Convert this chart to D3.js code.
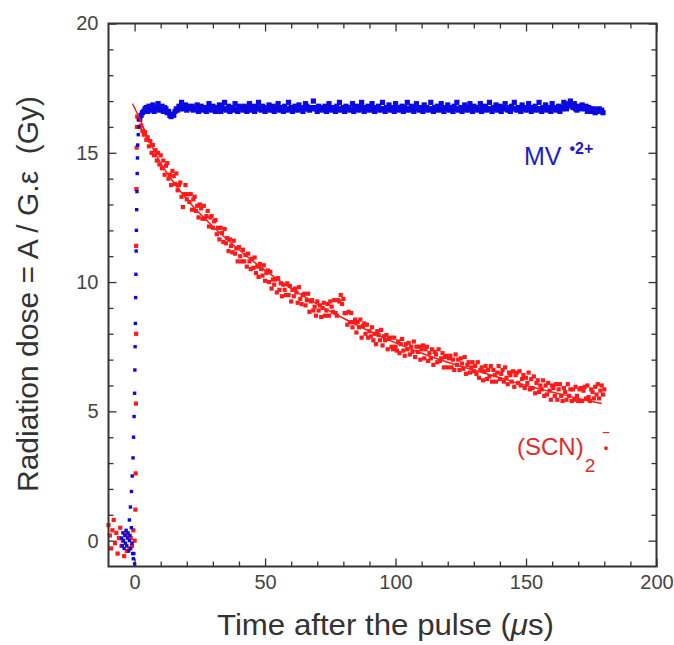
<!DOCTYPE html>
<html>
<head>
<meta charset="utf-8">
<script src="https://cdn.jsdelivr.net/npm/d3@7"></script>
<style>
body { margin: 0; background: #fff; }
svg text { font-family: Arial, "Liberation Sans", Helvetica, sans-serif; }
</style>
</head>
<body>
<div id="chart"></div>
<script>
// axis ticks
const xMajor = [0, 50, 100, 150, 200];
const xMinor = [10, 20, 30, 40, 60, 70, 80, 90, 110, 120, 130, 140, 160, 170, 180, 190];
const yMajor = [0, 5, 10, 15, 20];
const yMinor = [1, 2, 3, 4, 6, 7, 8, 9, 11, 12, 13, 14, 16, 17, 18, 19];

// (SCN)2•- pre-pulse baseline, t = -10 .. 0 us
const redBaseT = [-10, -9.5, -9, -8.5, -8, -7.5, -7, -6.5, -6, -5.5, -5, -4.5, -4, -3.5, -3, -2.5, -2, -1.5, -1, -0.5, 0];
const redBaseV = [0.6, 0.2, -0.3, 0.4, 0.8, -0.1, 0.3, -0.5, 0.1, 0.5, -0.2, 0.0, -0.6, 0.3, -0.4, 0.2, -0.3, 0.1, -0.2, 0.4, 0.0];
// (SCN)2•- points on the rising edge
const redRiseT = [0.3, 0.4, 0.5, 0.6, 0.6, 0.7, 0.8, 0.9];
const redRiseV = [1.2, 2.6, 5.3, 8.0, 11.4, 13.6, 15.2, 16.0];
// (SCN)2•- decay trace, sampled every 0.5 us from t = 1 us
const redStart = 1, redStep = 0.5;
const redTrace = [
  16.4, 16.3, 16.0, 16.05, 15.85, 15.7, 15.8, 15.5, 15.6, 15.25, 15.45, 15.0, 15.3, 14.9, 15.1, 14.7, 15.0, 14.55, 14.9, 14.4,
  14.7, 14.15, 14.5, 14.6, 14.0, 14.15, 13.75, 14.3, 14.1, 13.8, 14.2, 13.55, 13.75, 13.85, 13.3, 12.9, 13.4, 13.75, 13.2, 13.4,
  13.1, 13.4, 12.8, 13.2, 13.3, 12.75, 12.95, 12.5, 13.0, 12.85, 12.45, 12.95, 12.45, 12.55, 12.75, 12.15, 12.5, 12.55, 12.1, 12.35,
  12.4, 11.85, 12.1, 11.65, 12.1, 11.9, 11.55, 12.05, 11.5, 11.7, 11.2, 11.65, 11.4, 11.15, 11.6, 11.1, 11.3, 10.8, 11.35, 11.0,
  10.8, 11.25, 10.8, 11.05, 10.6, 11.1, 10.8, 10.5, 10.9, 10.55, 10.95, 10.35, 10.6, 10.2, 10.7, 10.5, 10.25, 10.65, 10.05, 10.35,
  10.45, 10.0, 10.4, 9.75, 10.1, 9.9, 10.1, 9.6, 10.15, 9.7, 9.95, 9.45, 9.9, 9.7, 9.5, 9.95, 9.5, 9.85, 9.25, 9.7,
  9.45, 9.75, 9.6, 9.2, 9.8, 9.35, 9.15, 9.5, 9.55, 9.1, 9.3, 9.55, 8.85, 9.25, 9.3, 8.9, 9.05, 8.7, 9.25, 8.9,
  9.1, 8.65, 9.0, 9.2, 8.7, 8.9, 9.15, 8.7, 9.25, 9.05, 8.85, 9.3, 8.8, 8.7, 9.3, 9.25, 9.5, 9.15, 9.35, 8.8,
  8.8, 8.35, 8.85, 8.45, 8.8, 8.25, 8.45, 8.55, 8.05, 8.45, 8.25, 8.55, 7.85, 8.3, 8.4, 8.0, 8.35, 7.85, 8.1, 7.9,
  8.25, 7.75, 8.0, 7.6, 8.1, 7.95, 7.75, 8.15, 7.55, 7.9, 7.75, 7.95, 7.4, 7.8, 7.85, 7.5, 7.4, 7.85, 7.5, 7.35,
  7.7, 7.25, 7.6, 7.8, 7.35, 7.15, 7.6, 7.4, 7.65, 7.2, 7.5, 7.3, 7.7, 7.1, 7.5, 7.3, 7.5, 7.0, 7.4, 7.55,
  7.05, 7.4, 7.5, 6.95, 7.25, 7.05, 7.4, 6.8, 7.3, 7.2, 6.9, 7.4, 6.95, 7.05, 7.25, 6.7, 7.1, 7.15, 6.7, 7.05,
  7.15, 6.7, 7.0, 6.6, 7.2, 6.8, 7.0, 6.6, 7.05, 6.85, 6.65, 7.1, 6.45, 6.8, 6.9, 6.5, 6.7, 6.9, 6.55, 6.75,
  6.45, 6.9, 6.3, 6.6, 6.7, 6.2, 6.55, 6.75, 6.25, 6.6, 6.35, 6.75, 6.15, 6.6, 6.4, 6.15, 6.5, 6.75, 6.25, 6.45,
  6.6, 6.15, 6.7, 6.3, 6.05, 6.5, 6.4, 6.15, 6.55, 5.95, 6.4, 6.5, 6.1, 6.55, 6.0, 6.25, 6.4, 5.9, 6.3, 6.1,
  6.5, 5.85, 6.25, 5.9, 6.35, 5.7, 6.1, 6.2, 5.75, 6.0, 5.85, 6.2, 5.6, 6.0, 5.65, 6.1, 5.8, 5.45, 6.0, 5.9,
  5.6, 6.05, 5.45, 5.85, 6.05, 5.6, 5.4, 5.9, 5.75, 5.45, 6.05, 5.6, 5.85, 5.4, 5.85, 5.45, 5.95, 5.6, 5.4, 5.85,
  5.9, 5.4, 5.8, 5.95, 5.5, 6.0, 5.55, 5.4, 5.85, 5.75, 5.5, 5.95, 5.65, 6.05, 5.5, 5.8, 6.0, 5.65, 5.85
];
// kinetic fit through the (SCN)2•- decay
const fitT = [-0.8, 2, 5, 10, 15, 20, 30, 40, 50, 60, 70, 80, 90, 100, 110, 120, 130, 140, 150, 160, 170, 179];
const fitV = [16.9, 16.3, 15.6, 14.6, 13.85, 13.2, 12.15, 11.25, 10.45, 9.75, 9.15, 8.6, 8.1, 7.65, 7.25, 6.9, 6.6, 6.3, 6.0, 5.75, 5.5, 5.3];

// MV•2+ pre-pulse baseline
const blueBaseT = [-5, -4.75, -4.5, -4.25, -4, -3.75, -3.5, -3.25, -3, -2.75, -2.5, -2.25, -2, -1.75, -1.5, -1.25, -1, -0.75, -0.5, -0.3, 0];
const blueBaseV = [0.1, -0.2, 0.3, 0.0, -0.3, 0.2, -0.1, 0.4, -0.2, 0.1, 0.3, -0.4, 0.0, 0.2, -0.3, 0.5, -0.1, -0.5, -0.7, -0.5, -0.9];
// MV•2+ rising edge
const blueRiseT = [-2.0, -1.6, -1.2, -0.9, -0.6, -0.4, -0.2, 0, 0.1, 0.2, 0.3, 0.4, 0.5, 0.6, 0.7, 0.8, 0.9, 1.0, 1.1, 1.2, 1.4, 1.6, 1.8];
const blueRiseV = [0.8, 1.3, 1.9, 2.5, 3.2, 4.0, 4.8, 5.7, 6.6, 7.5, 8.4, 9.4, 10.3, 11.2, 12.0, 12.8, 13.5, 14.2, 14.8, 15.3, 15.7, 16.0, 16.3];
// MV•2+ plateau trace, sampled every 0.5 us from t = 2 us
const blueStart = 2, blueStep = 0.5;
const blueTrace = [
  16.3, 16.45, 16.55, 16.6, 16.7, 16.75, 16.6, 16.8, 16.65, 16.7, 16.85, 16.6, 16.75, 16.7, 16.9, 16.65, 16.7, 16.8, 16.6, 16.75,
  16.7, 16.55, 16.6, 16.45, 16.4, 16.5, 16.45, 16.6, 16.7, 16.65, 16.8, 16.7, 16.95, 16.75, 16.7, 16.85, 16.65, 16.8, 16.7, 16.75,
  16.8, 16.65, 16.75, 16.7, 16.85, 16.6, 16.7, 16.8, 16.65, 16.75, 16.7, 16.6, 16.75, 16.9, 16.7, 16.65, 16.8, 16.7, 16.6, 16.75,
  16.7, 16.85, 16.6, 16.75, 16.7, 16.95, 16.65, 16.7, 16.8, 16.6, 16.75, 16.7, 16.65, 16.9, 16.7, 16.6, 16.8, 16.7, 16.75, 16.65,
  16.8, 16.7, 16.6, 16.75, 16.9, 16.65, 16.7, 16.8, 16.6, 16.7, 16.75, 16.95, 16.7, 16.65, 16.8, 16.7, 16.6, 16.75, 16.7, 16.85,
  16.65, 16.7, 16.8, 16.6, 16.75, 16.7, 16.9, 16.65, 16.7, 16.75, 16.6, 16.8, 16.7, 16.65, 16.95, 16.7, 16.75, 16.6, 16.7, 16.8,
  16.7, 16.65, 16.85, 16.7, 16.75, 16.6, 16.7, 16.9, 16.8, 16.7, 16.65, 16.75, 16.7, 17.0, 16.75, 16.7, 16.6, 16.8, 16.7, 16.75,
  16.65, 16.7, 16.8, 16.6, 16.75, 16.9, 16.7, 16.65, 16.75, 16.7, 16.6, 16.8, 16.7, 16.95, 16.65, 16.7, 16.75, 16.6, 16.8, 16.7,
  16.75, 16.65, 16.7, 16.9, 16.6, 16.7, 16.8, 16.7, 16.65, 16.75, 16.95, 16.7, 16.6, 16.75, 16.7, 16.8, 16.65, 16.7, 16.9, 16.7,
  16.6, 16.75, 16.7, 16.8, 16.65, 16.7, 16.95, 16.7, 16.6, 16.75, 16.7, 16.85, 16.65, 16.7, 16.75, 16.6, 16.9, 16.7, 16.75, 16.65,
  16.7, 16.8, 16.6, 16.75, 16.7, 16.95, 16.65, 16.7, 16.8, 16.7, 16.6, 16.75, 16.9, 16.7, 16.65, 16.75, 16.7, 16.6, 16.85, 16.7,
  16.75, 16.65, 16.7, 16.95, 16.7, 16.6, 16.75, 16.7, 16.8, 16.65, 16.7, 16.9, 16.7, 16.6, 16.75, 16.7, 16.85, 16.65, 16.7, 16.75,
  16.6, 16.8, 16.7, 16.95, 16.65, 16.7, 16.75, 16.6, 16.7, 16.85, 16.7, 16.65, 16.75, 16.9, 16.7, 16.6, 16.8, 16.7, 16.75, 16.65,
  16.7, 16.9, 16.6, 16.75, 16.7, 16.8, 16.65, 16.7, 16.95, 16.7, 16.6, 16.75, 16.7, 16.85, 16.65, 16.7, 16.8, 16.6, 16.75, 16.7,
  16.9, 16.7, 16.65, 16.75, 16.6, 16.8, 16.7, 16.95, 16.7, 16.65, 16.75, 16.7, 16.6, 16.85, 16.7, 16.75, 16.65, 16.7, 16.9, 16.7,
  16.6, 16.75, 16.7, 16.8, 16.65, 16.7, 16.95, 16.7, 16.6, 16.75, 16.7, 16.85, 16.65, 16.7, 16.75, 16.6, 16.9, 16.7, 16.75, 16.65,
  16.7, 16.8, 16.6, 16.75, 16.7, 16.95, 16.75, 16.7, 16.85, 16.9, 17.0, 16.8, 16.75, 16.9, 16.7, 16.65, 16.8, 16.75, 16.7, 16.85,
  16.75, 16.7, 16.8, 16.6, 16.75, 16.7, 16.6, 16.65, 16.7, 16.55, 16.65, 16.6, 16.7, 16.6, 16.65, 16.55
];

const RED = "#ff1a1a";
const BLUE = "#0a0ae0";

const width = 674, height = 645;
const svg = d3.select("#chart").append("svg")
    .attr("width", width)
    .attr("height", height);

const x = d3.scaleLinear().domain([-10, 200]).range([108.5, 656.5]);
const y = d3.scaleLinear().domain([-1, 20]).range([566.5, 23.5]);

function pairs(ts, vs) {
    return ts.map((t, i) => ({ t: t, v: vs[i] }));
}
function trace(start, step, vs) {
    return vs.map((v, i) => ({ t: start + i * step, v: v }));
}

const redPts = pairs(redBaseT, redBaseV)
    .concat(pairs(redRiseT, redRiseV))
    .concat(trace(redStart, redStep, redTrace));
const blueEdge = pairs(blueBaseT, blueBaseV)
    .concat(pairs(blueRiseT, blueRiseV));
const bluePlateau = trace(blueStart, blueStep, blueTrace);

// axes (ticks point inward on all four sides)
const axisColor = "#333";
function styleAxis(g) {
    g.select(".domain").remove();
    g.selectAll("line").attr("stroke", axisColor).attr("stroke-width", 1.3);
    g.selectAll("text").attr("fill", "#444").style("font-size", "20px");
}
svg.append("g").attr("transform", `translate(0,${y(-1)})`)
    .call(d3.axisBottom(x).tickValues(xMajor).tickSize(-8).tickPadding(8).tickFormat(d3.format("d")))
    .call(styleAxis);
svg.append("g").attr("transform", `translate(0,${y(-1)})`)
    .call(d3.axisBottom(x).tickValues(xMinor).tickSize(-5).tickFormat(""))
    .call(styleAxis);
svg.append("g").attr("transform", `translate(0,${y(20)})`)
    .call(d3.axisTop(x).tickValues(xMajor).tickSize(-8).tickFormat(""))
    .call(styleAxis);
svg.append("g").attr("transform", `translate(0,${y(20)})`)
    .call(d3.axisTop(x).tickValues(xMinor).tickSize(-5).tickFormat(""))
    .call(styleAxis);
svg.append("g").attr("transform", `translate(${x(-10)},0)`)
    .call(d3.axisLeft(y).tickValues(yMajor).tickSize(-8).tickPadding(10).tickFormat(d3.format("d")))
    .call(styleAxis);
svg.append("g").attr("transform", `translate(${x(-10)},0)`)
    .call(d3.axisLeft(y).tickValues(yMinor).tickSize(-5).tickFormat(""))
    .call(styleAxis);
svg.append("g").attr("transform", `translate(${x(200)},0)`)
    .call(d3.axisRight(y).tickValues(yMajor).tickSize(-8).tickFormat(""))
    .call(styleAxis);
svg.append("g").attr("transform", `translate(${x(200)},0)`)
    .call(d3.axisRight(y).tickValues(yMinor).tickSize(-5).tickFormat(""))
    .call(styleAxis);

// data markers
function drawMarkers(pts, size, color) {
    svg.append("g").selectAll("rect")
        .data(pts)
        .enter().append("rect")
        .attr("x", d => x(d.t) - size / 2)
        .attr("y", d => y(d.v) - size / 2)
        .attr("width", size)
        .attr("height", size)
        .attr("fill", color);
}
drawMarkers(redPts, 4.2, RED);
drawMarkers(blueEdge, 3.4, BLUE);
drawMarkers(bluePlateau, 5.2, BLUE);

// fit line
const line = d3.line()
    .x(d => x(d.t))
    .y(d => y(d.v))
    .curve(d3.curveMonotoneX);
svg.append("path")
    .datum(pairs(fitT, fitV))
    .attr("fill", "none")
    .attr("stroke", RED)
    .attr("stroke-width", 1.5)
    .attr("d", line);

// frame
svg.append("rect")
    .attr("x", x(-10)).attr("y", y(20))
    .attr("width", x(200) - x(-10)).attr("height", y(-1) - y(20))
    .attr("fill", "none")
    .attr("stroke", axisColor)
    .attr("stroke-width", 2);

// species labels
const mv = svg.append("text")
    .attr("x", 524).attr("y", 165)
    .attr("fill", "#1c1cc8")
    .style("font-size", "25px");
mv.append("tspan").text("MV");
mv.append("tspan").attr("dx", 8).attr("dy", -11)
    .style("font-size", "16px").style("font-weight", "bold").text("•2+");

const scn = svg.append("text")
    .attr("x", 517).attr("y", 455)
    .attr("fill", "#e82828")
    .style("font-size", "24px");
scn.append("tspan").text("(SCN)");
scn.append("tspan").attr("dx", 1).attr("dy", 17).style("font-size", "19px").text("2");
// radical dot with the negative charge stacked above it
svg.append("text")
    .attr("x", 606).attr("y", 436)
    .attr("text-anchor", "middle")
    .attr("fill", "#e82828")
    .style("font-size", "13px")
    .style("font-weight", "bold")
    .text("–");
svg.append("text")
    .attr("x", 606).attr("y", 452)
    .attr("text-anchor", "middle")
    .attr("fill", "#e82828")
    .style("font-size", "13px")
    .style("font-weight", "bold")
    .text("•");

// axis titles
const xt = svg.append("text")
    .attr("x", 385.5).attr("y", 635)
    .attr("text-anchor", "middle")
    .attr("fill", "#333")
    .attr("textLength", 337)
    .attr("lengthAdjust", "spacingAndGlyphs")
    .style("font-size", "30px");
xt.append("tspan").text("Time after the pulse (");
xt.append("tspan").style("font-style", "italic").text("μ");
xt.append("tspan").text("s)");

svg.append("text")
    .attr("transform", "translate(38,294) rotate(-90)")
    .attr("text-anchor", "middle")
    .attr("fill", "#333")
    .attr("textLength", 396)
    .attr("lengthAdjust", "spacingAndGlyphs")
    .style("font-size", "30px")
    .attr("xml:space", "preserve")
    .text("Radiation dose = A / G.ε  (Gy)");
</script>
</body>
</html>
